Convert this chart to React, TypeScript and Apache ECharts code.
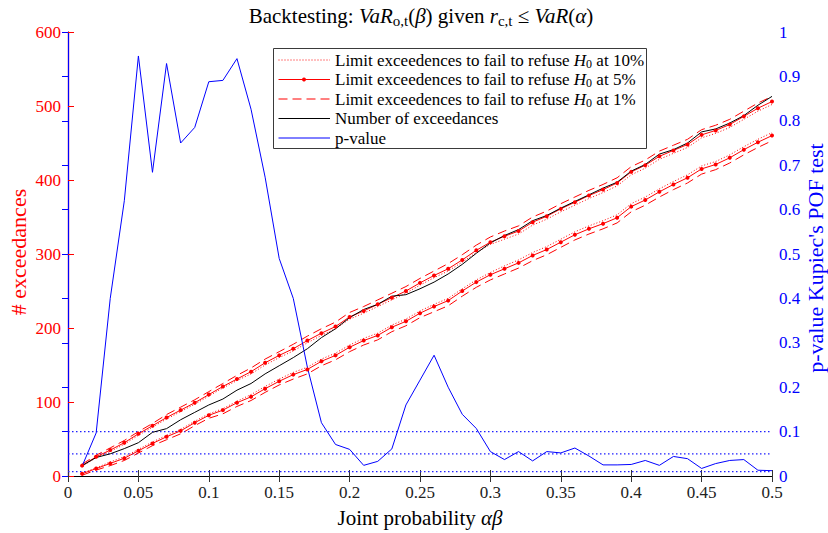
import React, { useEffect, useRef } from 'react';
import * as echarts from 'echarts';

const XS = [0.01, 0.02, 0.03, 0.04, 0.05, 0.06, 0.07, 0.08, 0.09, 0.1,
  0.11, 0.12, 0.13, 0.14, 0.15, 0.16, 0.17, 0.18, 0.19, 0.2,
  0.21, 0.22, 0.23, 0.24, 0.25, 0.26, 0.27, 0.28, 0.29, 0.3,
  0.31, 0.32, 0.33, 0.34, 0.35, 0.36, 0.37, 0.38, 0.39, 0.4,
  0.41, 0.42, 0.43, 0.44, 0.45, 0.46, 0.47, 0.48, 0.49, 0.5];

const UPPER_10 = [13, 25, 33, 43, 55, 66, 77, 87, 97, 108,
  119, 129, 138, 150, 160, 169, 180, 190, 199, 212,
  220, 229, 238, 247, 258, 268, 277, 289, 302, 313,
  320, 327, 339, 347, 357, 366, 375, 383, 392, 407,
  416, 428, 436, 444, 457, 463, 471, 482, 493, 502];
const LOWER_10 = [4, 11, 19, 26, 36, 46, 55, 63, 74, 84,
  91, 101, 110, 121, 131, 140, 147, 158, 166, 177,
  186, 193, 204, 212, 223, 232, 240, 253, 265, 275,
  284, 292, 302, 310, 320, 330, 338, 345, 353, 368,
  377, 388, 398, 407, 419, 425, 434, 445, 455, 464];

const UPPER_5 = [14, 26, 35, 45, 57, 68, 79, 89, 99, 110,
  121, 131, 141, 153, 163, 172, 183, 193, 202, 215,
  223, 232, 241, 250, 261, 271, 280, 292, 305, 316,
  324, 331, 343, 351, 361, 370, 379, 387, 396, 411,
  420, 432, 440, 448, 461, 467, 475, 486, 497, 506];
const LOWER_5 = [3, 10, 17, 24, 34, 44, 53, 61, 72, 82,
  89, 99, 107, 118, 128, 137, 144, 155, 163, 174,
  183, 190, 201, 209, 220, 229, 237, 250, 262, 272,
  280, 288, 298, 306, 316, 326, 334, 341, 349, 364,
  373, 384, 394, 403, 415, 421, 430, 441, 451, 460];

const UPPER_1 = [16, 28, 38, 48, 60, 71, 83, 93, 103, 114,
  125, 136, 146, 158, 168, 178, 189, 199, 208, 221,
  229, 238, 247, 256, 267, 277, 287, 299, 312, 323,
  331, 338, 350, 358, 368, 377, 386, 394, 403, 418,
  427, 439, 447, 455, 468, 474, 482, 493, 504, 513];
const LOWER_1 = [1, 8, 14, 21, 31, 41, 49, 57, 68, 78,
  84, 94, 102, 113, 123, 131, 138, 149, 157, 168,
  177, 184, 195, 203, 214, 222, 230, 243, 255, 265,
  273, 281, 291, 299, 309, 319, 327, 334, 342, 357,
  366, 377, 387, 396, 408, 414, 423, 434, 444, 453];

const EXCEEDANCES = [14, 25, 30, 37, 45, 59, 64, 76, 86, 96,
  104, 116, 125, 138, 149, 160, 172, 187, 199, 214,
  225, 232, 243, 245, 253, 262, 273, 286, 301, 315,
  325, 333, 345, 352, 362, 371, 380, 389, 397, 412,
  421, 435, 441, 450, 465, 469, 477, 487, 501, 513];

const P_VALUES = [0.022, 0.097, 0.40, 0.62, 0.946, 0.684, 0.929, 0.750, 0.785, 0.888,
  0.891, 0.940, 0.826, 0.673, 0.49, 0.40, 0.245, 0.12, 0.071, 0.060,
  0.024, 0.033, 0.061, 0.160, 0.216, 0.272, 0.20, 0.139, 0.107, 0.055,
  0.037, 0.055, 0.034, 0.055, 0.052, 0.063, 0.045, 0.025, 0.025, 0.026,
  0.035, 0.024, 0.044, 0.039, 0.017, 0.028, 0.035, 0.037, 0.013, 0.012];

const SIGNIFICANCE_LEVELS = [0.1, 0.05, 0.01];
const X_RANGE = [0, 0.5];

const N10 = 'Limit exceedences to fail to refuse H0 at 10%';
const N5 = 'Limit exceedences to fail to refuse H0 at 5%';
const N1 = 'Limit exceedences to fail to refuse H0 at 1%';
const NEXC = 'Number of exceedances';
const NP = 'p-value';

const LEGEND_ITEMS = [
  { key: N10, text: '{n|Limit exceedences to fail to refuse }{i|H}{s|0}{n| at 10%}', color: '#ff0000', dash: [1, 2], dot: false },
  { key: N5, text: '{n|Limit exceedences to fail to refuse }{i|H}{s|0}{n| at 5%}', color: '#ff0000', dash: null, dot: true },
  { key: N1, text: '{n|Limit exceedences to fail to refuse }{i|H}{s|0}{n| at 1%}', color: '#ff0000', dash: [9, 5], dot: false },
  { key: NEXC, text: '{n|Number of exceedances}', color: '#000000', dash: null, dot: false },
  { key: NP, text: '{n|p-value}', color: '#0000ff', dash: null, dot: false },
];

const LEFT_NAME = '# exceedances';
const RIGHT_NAME = "p-value Kupiec's POF test";

const FONT = "'Liberation Serif', 'DejaVu Serif', serif";
const RED = '#ff0000';
const BLUE = '#0000ff';

function pairs(ys: number[]) {
  return XS.map((x, i) => [x, ys[i]]);
}

function trim(v: number) {
  return String(+Number(v).toFixed(2));
}

function richBase(size: number, lh: number, color = '#000') {
  const sub = Math.round(size * 0.7);
  return {
    n: { fontFamily: FONT, fontSize: size, fontWeight: 'normal', color, lineHeight: lh },
    i: { fontFamily: FONT, fontSize: size, fontWeight: 'normal', fontStyle: 'italic', color, lineHeight: lh },
    s: { fontFamily: FONT, fontSize: sub, fontWeight: 'normal', color, lineHeight: sub, verticalAlign: 'bottom' },
  };
}

export default function App() {
  const ref = useRef<HTMLDivElement>(null);
  useEffect(() => {
    const chart = echarts.init(ref.current!, null, { renderer: 'svg' });
    const dashed = [9, 5];

    const boxX = 273.5, boxY = 48.5, boxW = 373, boxH = 100;
    const rowY = [60, 79.5, 99, 118.5, 138];
    const legendChildren: any[] = [
      { type: 'rect', shape: { x: boxX, y: boxY, width: boxW, height: boxH }, style: { fill: '#fff', stroke: '#3a3a3a', lineWidth: 1 } },
    ];
    LEGEND_ITEMS.forEach((it, k) => {
      legendChildren.push({
        type: 'line',
        shape: { x1: 278.5, y1: rowY[k], x2: 330, y2: rowY[k] },
        style: { stroke: it.color, lineWidth: 1, lineDash: it.dash || undefined },
      });
      if (it.dot) {
        legendChildren.push({ type: 'circle', shape: { cx: 304, cy: rowY[k], r: 2 }, style: { fill: it.color } });
      }
      legendChildren.push({
        type: 'text',
        x: 335,
        y: rowY[k],
        style: {
          text: it.text,
          rich: richBase(17, 19),
          fontSize: 17,
          fontFamily: FONT,
          align: 'left',
          verticalAlign: 'middle',
          textAlign: 'left',
          textVerticalAlign: 'middle',
        },
      });
    });

    const axisNames: any[] = [
      {
        type: 'text', x: 18, y: 252, rotation: Math.PI / 2,
        style: { text: LEFT_NAME, fill: RED, fontSize: 22, fontFamily: FONT, align: 'center', verticalAlign: 'middle', textAlign: 'center', textVerticalAlign: 'middle' },
      },
      {
        type: 'text', x: 815, y: 258, rotation: Math.PI / 2,
        style: { text: RIGHT_NAME, fill: BLUE, fontSize: 22, fontFamily: FONT, align: 'center', verticalAlign: 'middle', textAlign: 'center', textVerticalAlign: 'middle' },
      },
    ];

    const sigSeries = SIGNIFICANCE_LEVELS.map((lvl) => ({
      name: 'significance ' + lvl,
      type: 'line',
      yAxisIndex: 1,
      data: X_RANGE.map((x) => [x, lvl]),
      symbol: 'none',
      silent: true,
      lineStyle: { color: '#1f1fff', width: 1.2, type: [1.5, 2.5] },
      itemStyle: { color: BLUE },
      z: 1,
    }));

    const option: any = {
      animation: false,
      backgroundColor: '#fff',
      title: {
        text: '{n|Backtesting: }{i|VaR}{s|o,t}{n|(}{i|β}{n|) given }{i|r}{s|c,t}{n| ≤ }{i|VaR}{n|(}{i|α}{n|)}',
        left: 421,
        textAlign: 'center',
        top: 3,
        padding: 0,
        textStyle: { fontWeight: 'normal', fontSize: 21, fontFamily: FONT, rich: richBase(21, 25) },
      },
      grid: { left: 68, right: 56, top: 32, bottom: 57, containLabel: false, outerBoundsMode: 'none' },
      graphic: [
        { type: 'group', z: 100, children: legendChildren },
        { type: 'group', z: 100, children: axisNames },
      ],
      xAxis: [
        {
          type: 'value', min: 0, max: 0.5, interval: 0.05,
          axisLine: { show: true, lineStyle: { color: '#000', width: 1 } },
          axisTick: { show: true, inside: true, length: 6, lineStyle: { color: '#333' } },
          splitLine: { show: false },
          axisLabel: { formatter: trim, fontFamily: FONT, fontSize: 17, color: '#222', margin: 8 },
          name: '{n|Joint probability }{i|αβ}',
          nameLocation: 'middle',
          nameGap: 30,
          nameTextStyle: { fontSize: 21, fontFamily: FONT, rich: richBase(21, 24) },
        },
        {
          type: 'value', min: 0, max: 0.5, interval: 0.05, position: 'top',
          axisLine: { show: true, lineStyle: { color: '#000', width: 1 } },
          axisTick: { show: true, inside: true, length: 6, lineStyle: { color: '#333' } },
          splitLine: { show: false },
          axisLabel: { show: false },
        },
      ],
      yAxis: [
        {
          type: 'value', min: 0, max: 600, interval: 100, position: 'left',
          axisLine: { show: true, lineStyle: { color: RED, width: 1.2 } },
          axisTick: { show: true, inside: true, length: 6, lineStyle: { color: RED } },
          splitLine: { show: false },
          axisLabel: { fontFamily: FONT, fontSize: 17, color: RED, margin: 7 },
        },
        {
          type: 'value', min: 0, max: 1, interval: 0.1, position: 'right',
          axisLine: { show: true, lineStyle: { color: BLUE, width: 1.2 } },
          axisTick: { show: true, inside: true, length: 6, lineStyle: { color: BLUE } },
          splitLine: { show: false },
          axisLabel: { formatter: trim, fontFamily: FONT, fontSize: 17, color: BLUE, margin: 7 },
        },
      ],
      series: [
        ...sigSeries,
        { name: N10, type: 'line', data: pairs(UPPER_10), symbol: 'none', lineStyle: { color: RED, width: 1, type: [1, 2] }, itemStyle: { color: RED } },
        { name: N10, type: 'line', data: pairs(LOWER_10), symbol: 'none', lineStyle: { color: RED, width: 1, type: [1, 2] }, itemStyle: { color: RED } },
        { name: N5, type: 'line', data: pairs(UPPER_5), symbol: 'circle', symbolSize: 4, showSymbol: true, lineStyle: { color: RED, width: 1 }, itemStyle: { color: RED } },
        { name: N5, type: 'line', data: pairs(LOWER_5), symbol: 'circle', symbolSize: 4, showSymbol: true, lineStyle: { color: RED, width: 1 }, itemStyle: { color: RED } },
        { name: N1, type: 'line', data: pairs(UPPER_1), symbol: 'none', lineStyle: { color: RED, width: 1, type: dashed }, itemStyle: { color: RED } },
        { name: N1, type: 'line', data: pairs(LOWER_1), symbol: 'none', lineStyle: { color: RED, width: 1, type: dashed }, itemStyle: { color: RED } },
        { name: NEXC, type: 'line', data: pairs(EXCEEDANCES), symbol: 'none', lineStyle: { color: '#000', width: 1 }, itemStyle: { color: '#000' } },
        { name: NP, type: 'line', yAxisIndex: 1, data: pairs(P_VALUES), symbol: 'none', lineStyle: { color: BLUE, width: 1 }, itemStyle: { color: BLUE } },
      ],
    };
    chart.setOption(option);
    return () => chart.dispose();
  }, []);
  return <div ref={ref} style={{ position: 'fixed', left: 0, top: 0, width: 828, height: 533 }} />;
}
